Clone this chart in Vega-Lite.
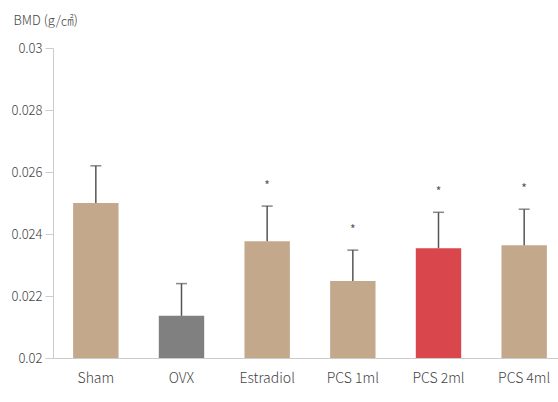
{
  "$schema": "https://vega.github.io/schema/vega-lite/v6.json",
  "autosize": "none",
  "width": 514,
  "height": 310,
  "padding": {"left": 53, "top": 48, "right": 0, "bottom": 44},
  "background": "white",
  "config": {
    "view": {"stroke": null},
    "font": "Noto Sans CJK KR"
  },
  "data": {
    "values": [
      {"group": "Sham", "bmd": 0.0250, "err": 0.0262, "sig": "", "color": "tan"},
      {"group": "OVX", "bmd": 0.02136, "err": 0.0224, "sig": "", "color": "grey"},
      {"group": "Estradiol", "bmd": 0.02377, "err": 0.0249, "sig": "*", "color": "tan"},
      {"group": "PCS 1ml", "bmd": 0.02248, "err": 0.02348, "sig": "*", "color": "tan"},
      {"group": "PCS 2ml", "bmd": 0.02354, "err": 0.0247, "sig": "*", "color": "red"},
      {"group": "PCS 4ml", "bmd": 0.02364, "err": 0.0248, "sig": "*", "color": "tan"}
    ]
  },
  "encoding": {
    "x": {
      "field": "group",
      "type": "nominal",
      "sort": null,
      "scale": {"paddingInner": 0.47, "paddingOuter": 0.235},
      "axis": {
        "title": null,
        "labelAngle": 0,
        "labelFontSize": 14,
        "labelFontWeight": 300,
        "labelColor": "#444",
        "labelPadding": 13,
        "ticks": false,
        "domainColor": "#ccc",
        "labelFont": "Noto Sans CJK KR"
      }
    }
  },
  "layer": [
    {
      "mark": {"type": "bar", "clip": true},
      "encoding": {
        "y": {
          "field": "bmd",
          "type": "quantitative",
          "scale": {"domain": [0.02, 0.03], "zero": false, "nice": false},
          "axis": {
            "title": "BMD (g/㎠)",
            "titleAngle": 0,
            "titleAlign": "left",
            "titleBaseline": "alphabetic",
            "titleX": -40,
            "titleY": -24,
            "titleFontSize": 13,
            "titleFontWeight": 300,
            "titleColor": "#444",
            "values": [0.02, 0.022, 0.024, 0.026, 0.028, 0.03],
            "format": ".3~f",
            "labelFontSize": 13,
            "labelFontWeight": 300,
            "labelColor": "#444",
            "tickColor": "#ccc",
            "tickSize": 8,
            "labelPadding": 3,
            "domainColor": "#ccc",
            "grid": false
          }
        },
        "y2": {"datum": 0.02},
        "color": {
          "field": "color",
          "type": "nominal",
          "scale": {"domain": ["tan", "grey", "red"], "range": ["#c4a88b", "#808080", "#d9464b"]},
          "legend": null
        }
      }
    },
    {
      "mark": {"type": "rule", "color": "#555", "strokeWidth": 1.5},
      "encoding": {
        "y": {"field": "bmd", "type": "quantitative"},
        "y2": {"field": "err"}
      }
    },
    {
      "mark": {"type": "tick", "color": "#555", "thickness": 1.5, "size": 11},
      "encoding": {
        "y": {"field": "err", "type": "quantitative"}
      }
    },
    {
      "mark": {"type": "text", "color": "#555", "fontSize": 12, "dy": -20, "baseline": "middle"},
      "encoding": {
        "y": {"field": "err", "type": "quantitative"},
        "text": {"field": "sig"}
      }
    }
  ]
}
